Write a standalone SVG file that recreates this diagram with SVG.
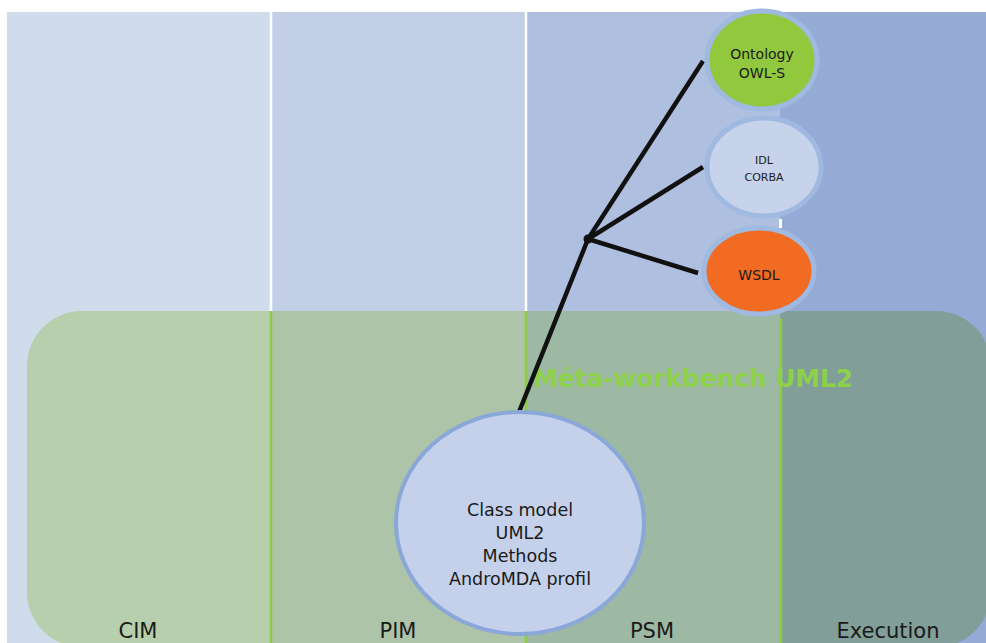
<svg xmlns="http://www.w3.org/2000/svg" width="986" height="643" viewBox="0 0 986 643">
<style>
.lbl{font-family:"DejaVu Sans",Verdana,sans-serif;font-size:21px;fill:#1a1a1a;text-anchor:middle}
.node{font-family:"DejaVu Sans",Verdana,sans-serif;fill:#1a1a1a;text-anchor:middle}
.conn{stroke:#111;stroke-width:4.5;stroke-linecap:butt;fill:none}
</style>
<defs>
<clipPath id="gclip"><rect x="27" y="311" width="964" height="336" rx="55"/></clipPath>
</defs>
<rect width="986" height="643" fill="#ffffff"/>
<g id="background">
<rect x="7" y="12" width="264" height="631" fill="#d0dbeb"/>
<rect x="271" y="12" width="255" height="631" fill="#c3cfe6"/>
<rect x="526" y="12" width="254" height="631" fill="#aebfdf"/>
<rect x="780" y="12" width="206" height="631" fill="#95aad4"/>
<line x1="271" y1="12" x2="271" y2="311" stroke="#ffffff" stroke-width="2.5"/>
<line x1="526" y1="12" x2="526" y2="311" stroke="#ffffff" stroke-width="2.5"/>
<rect x="779" y="219" width="3" height="9" fill="#ffffff"/>
</g>
<g id="workbench" clip-path="url(#gclip)">
<rect x="27" y="311" width="244" height="400" fill="#b7cfac"/>
<rect x="271" y="311" width="255" height="400" fill="#aec4a8"/>
<rect x="526" y="311" width="254" height="400" fill="#9db8a3"/>
<rect x="780" y="311" width="220" height="400" fill="#819e98"/>
<line x1="271" y1="311" x2="271" y2="643" stroke="#8ccd45" stroke-width="2.5"/>
<line x1="526" y1="311" x2="526" y2="643" stroke="#8ccd45" stroke-width="2.5"/>
<line x1="781" y1="318" x2="781" y2="643" stroke="#8ccd45" stroke-width="2.5"/>
</g>
<text x="533" y="387" font-family="DejaVu Sans,Verdana,sans-serif" font-weight="bold" font-size="24" fill="#8dd14a" textLength="320" lengthAdjust="spacingAndGlyphs">Méta-workbench UML2</text>
<g id="column-labels">
<text class="lbl" x="138" y="638">CIM</text>
<text class="lbl" x="398" y="638">PIM</text>
<text class="lbl" x="652" y="638">PSM</text>
<text class="lbl" x="888" y="638">Execution</text>
</g>
<g id="connectors">
<line class="conn" x1="588" y1="239" x2="703" y2="61"/>
<line class="conn" x1="588" y1="239" x2="703" y2="167"/>
<line class="conn" x1="588" y1="239" x2="698" y2="273"/>
<line class="conn" x1="588" y1="239" x2="519" y2="412"/>
<circle cx="588" cy="239" r="4.5" fill="#111"/>
</g>
<g id="node-classmodel">
<ellipse cx="520" cy="523" rx="124" ry="111" fill="#c5d1ea" stroke="#8aa7d9" stroke-width="4"/>
<text class="node" font-size="17.5" x="520" y="516">Class model</text>
<text class="node" font-size="17.5" x="520" y="539">UML2</text>
<text class="node" font-size="17.5" x="520" y="562">Methods</text>
<text class="node" font-size="17.5" x="520" y="585">AndroMDA profil</text>
</g>
<g id="node-ontology">
<ellipse cx="762" cy="60" rx="55" ry="49" fill="#92c83e" stroke="#9fb9e0" stroke-width="5"/>
<text class="node" font-size="14" x="762" y="59">Ontology</text>
<text class="node" font-size="14" x="762" y="78">OWL-S</text>
</g>
<g id="node-idl">
<ellipse cx="764" cy="167" rx="57" ry="49" fill="#c7d3ea" stroke="#9fb9e0" stroke-width="5"/>
<text class="node" font-size="11" x="764" y="164">IDL</text>
<text class="node" font-size="11" x="764" y="181">CORBA</text>
</g>
<g id="node-wsdl">
<ellipse cx="759" cy="271" rx="55" ry="43" fill="#f26b23" stroke="#9fb9e0" stroke-width="5"/>
<text class="node" font-size="14" x="759" y="280">WSDL</text>
</g>
</svg>
